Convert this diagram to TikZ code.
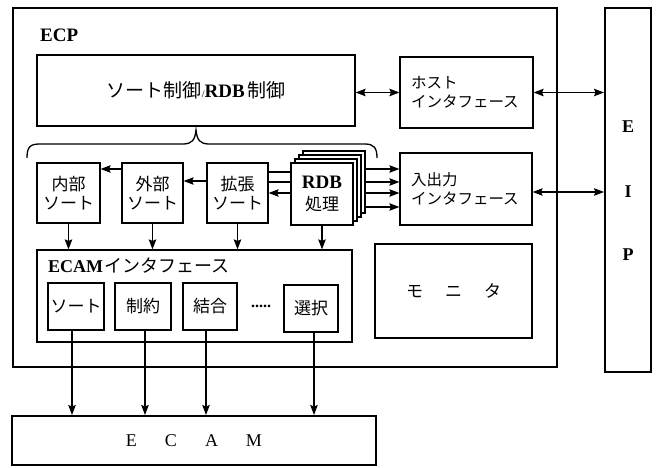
\documentclass[tikz,border=0pt]{standalone}
\usepackage{fontspec}
\setmainfont{Liberation Serif}
\newfontfamily\jp{Noto Sans CJK JP}
\usetikzlibrary{arrows.meta}
\tikzset{
  box/.style={draw, line width=1.2pt, fill=white, inner sep=0pt, align=center},
  bigbox/.style={draw, line width=2pt, inner sep=0pt},
  arr/.style={line width=1.3pt, -{Stealth[length=10pt,width=7.5pt,inset=1.5pt]}},
  darr/.style={line width=1.3pt, {Stealth[length=10pt,width=7.5pt,inset=1.5pt]}-{Stealth[length=10pt,width=7.5pt,inset=1.5pt]}},
  ln/.style={line width=1.3pt},
  jtxt/.style={font=\jp\fontsize{17}{19}\selectfont},
  itxt/.style={font=\jp\fontsize{15.5}{19}\selectfont, align=left, inner xsep=11pt},
  lbl/.style={inner sep=0pt, anchor=west}
}
\begin{document}
\begin{tikzpicture}[x=1pt,y=-1pt]
\useasboundingbox (0,0) rectangle (656,468);
% outer boxes
\node[bigbox, minimum width=544, minimum height=359] (ecp) at (285,187.5) {};
\node[lbl, font=\bfseries\fontsize{19}{21}\selectfont] (ecplbl) at (40,35) {ECP};
\node[bigbox, minimum width=46, minimum height=364] (eip) at (628,190) {};
\node[font=\bfseries\fontsize{18}{20}\selectfont] (eipE) at (628,127) {E};
\node[font=\bfseries\fontsize{18}{20}\selectfont] (eipI) at (628,192) {I};
\node[font=\bfseries\fontsize{18}{20}\selectfont] (eipP) at (628,255) {P};
\node[bigbox, minimum width=364, minimum height=49, font=\fontsize{18}{20}\selectfont] (ecam) at (194,440.5) {E\hspace{28pt}C\hspace{28pt}A\hspace{28pt}M};
% control
\node[box, minimum width=318, minimum height=71] (ctrl) at (196,90.5)
  {{\jp\fontsize{19}{21}\selectfont ソート制御}/\textbf{\fontsize{19}{21}\selectfont RDB} {\jp\fontsize{19}{21}\selectfont 制御}};
\node[box, itxt, text width=111, minimum height=71] (host) at (466.5,92.5) {ホスト\\インタフェース};
\node[box, itxt, text width=110, minimum height=72] (io) at (466,189) {入出力\\インタフェース};
\node[box, minimum width=157, minimum height=94, jtxt] (mon) at (453.5,291) {モ\hspace{22pt}ニ\hspace{22pt}タ};
% brace
\draw[ln] (27,158) .. controls (27,147) and (30,144) .. (40,144) -- (183,144)
  .. controls (192,144) and (195,140) .. (196,130)
  .. controls (197,140) and (200,144) .. (209,144) -- (365,144)
  .. controls (374,144) and (377,148) .. (377,158);
% sort boxes
\node[box, jtxt, minimum width=63, minimum height=60] (nai) at (68.5,193) {内部\\ソート};
\node[box, jtxt, minimum width=61, minimum height=60] (gai) at (152.5,193) {外部\\ソート};
\node[box, jtxt, minimum width=61, minimum height=60] (kak) at (237.5,193) {拡張\\ソート};
\node[box, minimum width=62, minimum height=62] (rdbC) at (334,182) {};
\node[box, minimum width=62, minimum height=62] (rdbB) at (330,186) {};
\node[box, minimum width=62, minimum height=62] (rdbA) at (326,190) {};
\node[box, minimum width=62, minimum height=62, font=\fontsize{17}{22}\selectfont] (rdb) at (322,194)
  {\textbf{\fontsize{19}{20}\selectfont RDB}\\{\jp\fontsize{17}{19}\selectfont 処理}};
% ECAM interface
\node[box, minimum width=315, minimum height=92] (ecamif) at (194.5,296) {};
\node[lbl] (ecamiflbl) at (48,266) {\textbf{\fontsize{18}{20}\selectfont ECAM}\,{\jp\fontsize{18}{20}\selectfont インタフェース}};
\node[box, jtxt, minimum width=56, minimum height=47] (s1) at (76,306.5) {ソート};
\node[box, jtxt, minimum width=56, minimum height=47] (s2) at (143,306.5) {制約};
\node[box, jtxt, minimum width=54, minimum height=47] (s3) at (210,306.5) {結合};
\node[font=\bfseries\fontsize{16}{18}\selectfont] (dots) at (261,306) {.....};
\node[box, jtxt, minimum width=54, minimum height=47] (s4) at (311,308.5) {選択};
% connectors
\draw[darr] (ctrl.east |- host.west) -- (host.west);
\draw[darr] (host.east) -- (host.east -| eip.west);
\draw[darr] (io.east |- 0,192) -- (eip.west |- 0,192);
\foreach \yy in {169,182,193,207}
  \draw[arr] (rdbC.east |- 0,\yy) -- (io.west |- 0,\yy);
\draw[arr] (gai.west |- 0,169) -- (nai.east |- 0,169);
\draw[arr] (kak.west |- 0,181) -- (gai.east |- 0,181);
\draw[ln] (rdb.west |- 0,172) -- (kak.east |- 0,172);
\draw[ln] (rdb.west |- 0,182) -- (kak.east |- 0,182);
\draw[arr] (rdb.west |- 0,193) -- (kak.east |- 0,193);
\foreach \n in {nai,gai,kak,rdb}
  \draw[arr] (\n.south) -- (\n.south |- ecamif.north);
\draw[arr] ([xshift=-4pt]s1.south) -- ([xshift=-4pt]s1.south |- ecam.north);
\draw[arr] ([xshift=2pt]s2.south) -- ([xshift=2pt]s2.south |- ecam.north);
\draw[arr] ([xshift=-4pt]s3.south) -- ([xshift=-4pt]s3.south |- ecam.north);
\draw[arr] ([xshift=3pt]s4.south) -- ([xshift=3pt]s4.south |- ecam.north);
\end{tikzpicture}
\end{document}
